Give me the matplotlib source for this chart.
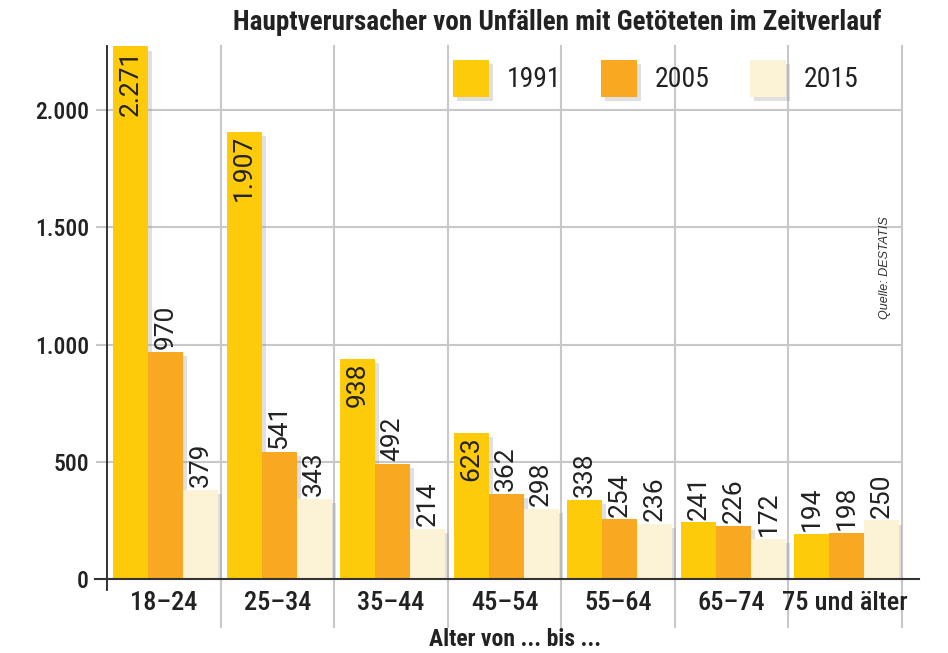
import matplotlib
matplotlib.use("Agg")
import matplotlib.pyplot as plt
import matplotlib.patheffects as pe
from matplotlib.patches import Rectangle
import numpy as np

categories = ["18–24", "25–34", "35–44", "45–54", "55–64", "65–74", "75 und älter"]
years = ["1991", "2005", "2015"]
v1991 = [2271, 1907, 938, 623, 338, 241, 194]
v2005 = [970, 541, 492, 362, 254, 226, 198]
v2015 = [379, 343, 214, 298, 236, 172, 250]
series = [v1991, v2005, v2015]
colors = ["#FDCB0A", "#F8A821", "#FCF3D6"]
yticks = [0, 500, 1000, 1500, 2000]
ytick_labels = ["0", "500", "1.000", "1.500", "2.000"]

COND = ["Roboto Condensed", "Liberation Sans Narrow", "Roboto", "DejaVu Sans"]
REG = ["Roboto", "Liberation Sans", "DejaVu Sans"]

fig = plt.figure(figsize=(9.48, 6.53), dpi=100)
ax = fig.add_axes([107/948, 1-579/653, 795/948, 533/653])
ax.set_xlim(-0.5, 6.5)
ax.set_ylim(0, 2273)
for s in ax.spines.values():
    s.set_visible(False)

x = np.arange(len(categories))
w = 0.308
offsets = [-0.293, 0.015, 0.323]
shadow = [pe.SimplePatchShadow(offset=(3, -3), shadow_rgbFace="#999999", alpha=0.3), pe.Normal()]

grid_c = "#c8c8c8"
for yv in yticks[1:]:
    ax.axhline(yv, color=grid_c, lw=1.5, zorder=0)
    ax.plot([-0.013, 0], [yv, yv], transform=ax.get_yaxis_transform(), color=grid_c, lw=1.5, clip_on=False)
for b in np.arange(0.5, 6.6, 1.0):
    ax.axvline(b, ymin=-0.09, ymax=1, color=grid_c, lw=1.5, clip_on=False, zorder=0)

for i, (vals, c) in enumerate(zip(series, colors)):
    bars = ax.bar(x + offsets[i], vals, width=w, color=c, zorder=2 + i, linewidth=0)
    for bar in bars:
        bar.set_path_effects(shadow)
    for xi, v in zip(x, vals):
        lbl = f"{v:,}".replace(",", ".")
        inside = (i == 0 and v > 500)
        if inside:
            ax.text(xi + offsets[i], v - 14, lbl, rotation=90, ha="center", va="top",
                    fontsize=19, family=REG, color="#222222", zorder=10)
        else:
            ax.text(xi + offsets[i], v + 12, lbl, rotation=90, ha="center", va="bottom",
                    fontsize=19, family=REG, color="#222222", zorder=10)

# axes lines
ax.plot([0, 0], [-0.02, 1], transform=ax.transAxes, color="#222222", lw=1.3, clip_on=False, zorder=20)
ax.plot([-0.015, 1.021], [0, 0], transform=ax.transAxes, color="#333333", lw=1.5, clip_on=False, zorder=20)

ax.set_yticks(yticks)
ax.set_yticklabels(ytick_labels, family=COND, fontsize=17, fontweight="medium", color="#222222")
ax.set_xticks(x)
ax.set_xticklabels(categories, family=COND, fontsize=19, fontweight="medium", color="#222222")
ax.tick_params(axis="both", length=0)
ax.tick_params(axis="y", pad=13)
ax.tick_params(axis="x", pad=9)

fig.text(515/948, 1-640/653, "Alter von ... bis ...", ha="center", va="center",
         family=COND, fontsize=17, fontweight="bold", color="#222222")
fig.text(557/948, 1-23/653, "Hauptverursacher von Unfällen mit Getöteten im Zeitverlauf",
         ha="center", va="center", family=COND, fontsize=19.5, fontweight="bold", color="#222222")
fig.text(885/948, 1-268/653, "Quelle: DESTATIS", rotation=90, ha="center", va="center",
         family=["Liberation Sans", "DejaVu Sans"], fontsize=9, style="italic", color="#333333")

handles = []
for c in colors:
    r = Rectangle((0, 0), 1, 1, facecolor=c, linewidth=0)
    r.set_path_effects(shadow)
    handles.append(r)
leg = ax.legend(handles, years, loc="upper left", bbox_to_anchor=(0.435, 0.974), ncol=3,
                frameon=False, borderpad=0, borderaxespad=0, handlelength=1.3, handleheight=1.67,
                handletextpad=0.63, columnspacing=1.45, prop={"family": COND, "size": 20})
for t in leg.get_texts():
    t.set_color("#222222")

fig.savefig("out.png", dpi=100)
